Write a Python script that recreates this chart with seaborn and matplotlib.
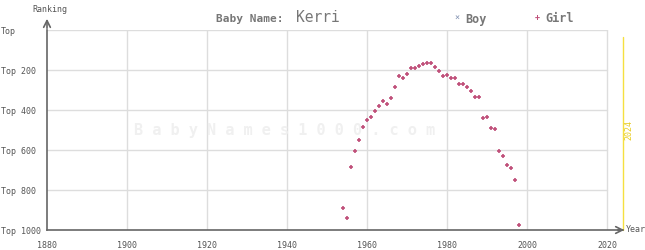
import matplotlib
matplotlib.use("Agg")
import matplotlib.pyplot as plt
import seaborn as sns
import pandas as pd

years = [1954, 1955, 1956, 1957, 1958, 1959, 1960, 1961, 1962, 1963, 1964, 1965, 1966,
         1967, 1968, 1969, 1970, 1971, 1972, 1973, 1974, 1975, 1976, 1977, 1978, 1979,
         1980, 1981, 1982, 1983, 1984, 1985, 1986, 1987, 1988, 1989, 1990, 1991, 1992,
         1993, 1994, 1995, 1996, 1997, 1998]
girl_rank = [892, 942, 687, 607, 552, 487, 448, 437, 407, 382, 357, 372, 342,
             287, 232, 242, 222, 192, 192, 182, 172, 167, 167, 187, 207, 232,
             227, 242, 242, 272, 272, 287, 307, 337, 337, 442, 437, 492, 497,
             607, 632, 677, 692, 752, 977]
x_ticks = [1880, 1900, 1920, 1940, 1960, 1980, 2000, 2020]
y_ticks = [0, 200, 400, 600, 800, 1000]
y_labels = ["Top", "Top 200", "Top 400", "Top 600", "Top 800", "Top 1000"]
name = "Kerri"

df = pd.DataFrame({"Year": years, "Rank": girl_rank})

sns.set_theme(style="white")
plt.rcParams["font.family"] = ["DejaVu Sans Mono", "DejaVu Sans"]

W, H = 645, 250
fig = plt.figure(figsize=(W / 100, H / 100), dpi=100)
left, right, top, bottom = 47, 623, 30, 230
ax = fig.add_axes([left / W, 1 - bottom / H, (right - left) / W, (bottom - top) / H])
ax.set_xlim(1880, 2024)
ax.set_ylim(1000, 0)

grid_c = "#dddddd"
for x in x_ticks[1:]:
    ax.plot([x, x], [0, 1000], color=grid_c, lw=1, zorder=0)
for y in y_ticks[:-1]:
    ax.plot([1880, 2020], [y, y], color=grid_c, lw=1, zorder=0)

# watermark
fig.text(285 / W, 1 - 131 / H, " ".join(list("BabyNames1000.com")),
         ha="center", va="center", fontsize=11, color="#f0f0f0", fontweight="bold", zorder=0)

# 2024 line
ax.plot([2024, 2024], [35, 1000], color="#f5e040", lw=1, clip_on=False, zorder=1)
fig.text(629 / W, 1 - 130 / H, "2024", rotation=90, ha="center", va="center",
         fontsize=6, color="#e8cc20")

sns.scatterplot(data=df, x="Year", y="Rank", marker="+", color="#c0507a", s=10,
                linewidth=1.2, ax=ax, legend=False, zorder=3)

for s in ["top", "right"]:
    ax.spines[s].set_visible(False)
for s in ["left", "bottom"]:
    ax.spines[s].set_color("#666666")
    ax.spines[s].set_linewidth(1.2)

ax.set_xticks(x_ticks)
ax.set_xticklabels([str(v) for v in x_ticks])
ax.set_yticks(y_ticks)
ax.set_yticklabels(y_labels)
ax.tick_params(axis="both", labelsize=6, colors="#555555", length=0)
ax.tick_params(axis="x", pad=8)
ax.tick_params(axis="y", pad=left * 0.72 - 0.5)
for lbl in ax.get_yticklabels():
    lbl.set_horizontalalignment("left")
ax.set_xlabel("")
ax.set_ylabel("")

# axis arrows
ax.annotate("", xy=(left / W, 1 - 16 / H), xytext=(left / W, 1 - 31 / H),
            xycoords="figure fraction",
            arrowprops=dict(arrowstyle="->", color="#666666", lw=1.2))
ax.annotate("", xy=(627 / W, 1 - bottom / H), xytext=(615 / W, 1 - bottom / H),
            xycoords="figure fraction",
            arrowprops=dict(arrowstyle="->", color="#666666", lw=1.2))
fig.text(32 / W, 1 - 9 / H, "Ranking", fontsize=6, color="#555555", ha="left", va="center")
fig.text(626 / W, 1 - 230 / H, "Year", fontsize=6, color="#555555", ha="left", va="center")

# title
fig.text(284 / W, 1 - 19 / H, "Baby Name:", fontsize=8, fontweight="bold",
         color="#777777", ha="right", va="center")
fig.text(296 / W, 1 - 18 / H, name, fontsize=10.5, color="#777777", ha="left", va="center")

# legend
fig.text(457 / W, 1 - 18 / H, "×", fontsize=6, color="#8090b0", ha="center", va="center")
fig.text(465 / W, 1 - 19 / H, "Boy", fontsize=8.5, fontweight="bold", color="#777777",
         ha="left", va="center")
fig.text(537 / W, 1 - 18 / H, "+", fontsize=6, color="#c0507a", ha="center", va="center",
         fontweight="bold")
fig.text(545 / W, 1 - 19 / H, "Girl", fontsize=8.5, fontweight="bold", color="#777777",
         ha="left", va="center")

fig.savefig("out.png", dpi=100)
